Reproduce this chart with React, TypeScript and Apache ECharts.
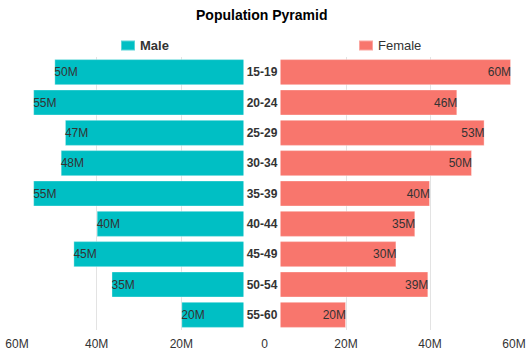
import React, { useEffect, useRef } from "react";
import * as echarts from "echarts";

const categories = ["15-19", "20-24", "25-29", "30-34", "35-39", "40-44", "45-49", "50-54", "55-60"];
const maleValues = [50, 55, 47.5, 48.5, 55, 40, 45.5, 36.5, 20];
const femaleValues = [59.3, 46.5, 53, 50, 40, 36.5, 32, 39.6, 20];
const maleLabels = ["50M", "55M", "47M", "48M", "55M", "40M", "45M", "35M", "20M"];
const femaleLabels = ["60M", "46M", "53M", "50M", "40M", "35M", "30M", "39M", "20M"];
const axisTicks = [0, 20, 40, 60];

const FONT = "'Liberation Sans', Arial, sans-serif";
const MALE = "#00BFC4";
const FEMALE = "#F8766D";

export default function App() {
  const ref = useRef<HTMLDivElement>(null);
  useEffect(() => {
    const chart = echarts.init(ref.current!, null, { renderer: "svg" });
    const splitLine = { show: true, showMinLine: false, showMaxLine: false, lineStyle: { color: "#e3e3e3" } };
    chart.setOption({
      animation: false,
      textStyle: { fontFamily: FONT },
      title: {
        text: "Population Pyramid",
        left: 191,
        top: 3,
        textStyle: { fontSize: 14, fontWeight: "bold", color: "#000", fontFamily: FONT },
      },
      legend: [
        {
          data: ["Male"],
          left: 115,
          top: 34,
          icon: "rect",
          itemWidth: 14,
          itemHeight: 10,
          itemGap: 6,
          textStyle: { fontSize: 13, fontWeight: "bold", color: "#333", fontFamily: FONT },
        },
        {
          data: ["Female"],
          left: 353,
          top: 34,
          icon: "rect",
          itemWidth: 14,
          itemHeight: 10,
          textStyle: { fontSize: 13, color: "#333", fontFamily: FONT },
        },
      ],
      grid: [
        { left: 12, width: 254, top: 57, height: 273 },
        { left: 262, right: 18, top: 57, height: 273 },
      ],
      xAxis: [
        {
          type: "value",
          gridIndex: 0,
          inverse: true,
          min: 0,
          max: axisTicks[axisTicks.length - 1],
          interval: 20,
          axisLine: { show: false },
          axisTick: { show: false },
          splitLine,
          axisLabel: {
            fontSize: 12,
            color: "#333",
            margin: 8,
            fontFamily: FONT,
            formatter: (v: number) => (v === 0 ? "" : v === 60 ? "{s|" + v + "M}" : v + "M"),
            rich: { s: { padding: [0, 0, 0, 10], fontSize: 12, color: "#333", fontFamily: FONT } },
          },
        },
        {
          type: "value",
          gridIndex: 1,
          min: 0,
          max: axisTicks[axisTicks.length - 1],
          interval: 20,
          axisLine: { show: false },
          axisTick: { show: false },
          splitLine,
          axisLabel: {
            fontSize: 12,
            color: "#333",
            margin: 8,
            fontFamily: FONT,
            formatter: (v: number) => (v === 0 ? "{z|0}" : v + "M"),
            rich: { z: { padding: [0, 0, 0, 5], fontSize: 12, color: "#333", fontFamily: FONT } },
          },
        },
      ],
      yAxis: [
        {
          type: "category",
          gridIndex: 0,
          data: categories,
          inverse: true,
          axisLine: { show: false },
          axisTick: { show: false },
          axisLabel: { show: false },
        },
        {
          type: "category",
          gridIndex: 1,
          data: categories,
          inverse: true,
          z: 10,
          axisLine: { show: false },
          axisTick: { show: false },
          axisLabel: {
            interval: 0,
            showMinLabel: true,
            showMaxLabel: true,
            hideOverlap: false,
            margin: 0,
            align: "center",
            width: 37,
            height: 30,
            lineHeight: 30,
            backgroundColor: "#fff",
            fontSize: 12,
            fontWeight: "bold",
            color: "#333",
            fontFamily: FONT,
          },
        },
      ],
      series: [
        {
          name: "Male",
          type: "bar",
          xAxisIndex: 0,
          yAxisIndex: 0,
          data: maleValues,
          barCategoryGap: "14%",
          itemStyle: { color: MALE, borderColor: "rgba(255,255,255,0.35)", borderWidth: 1 },
          label: {
            show: true,
            position: "insideLeft",
            distance: 0,
            fontSize: 12,
            color: "#333",
            fontFamily: FONT,
            formatter: (p: any) => maleLabels[p.dataIndex],
          },
        },
        {
          name: "Female",
          type: "bar",
          xAxisIndex: 1,
          yAxisIndex: 1,
          data: femaleValues,
          barCategoryGap: "14%",
          itemStyle: { color: FEMALE, borderColor: "rgba(255,255,255,0.35)", borderWidth: 1 },
          label: {
            show: true,
            position: "insideRight",
            distance: 0,
            fontSize: 12,
            color: "#333",
            fontFamily: FONT,
            formatter: (p: any) => femaleLabels[p.dataIndex],
          },
        },
      ],
    });
    return () => chart.dispose();
  }, []);
  return <div ref={ref} style={{ width: 532, height: 355, position: "absolute", left: 0, top: 0 }} />;
}
